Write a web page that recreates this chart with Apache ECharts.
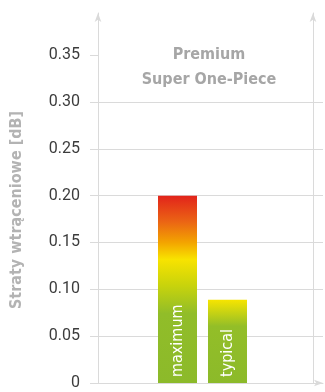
<!DOCTYPE html>
<html>
<head>
<meta charset="utf-8">
<script src="https://cdn.jsdelivr.net/npm/echarts@6/dist/echarts.min.js"></script>
<style>
  html, body { margin: 0; padding: 0; background: #ffffff; }
  #chart { width: 325px; height: 392px; }
</style>
</head>
<body>
<div id="chart"></div>
<script>
// Insertion loss of the Premium Super One-Piece connector
const productLines = ['Premium', 'Super One-Piece'];
const seriesNames = ['maximum', 'typical'];
const lossValues = [0.20, 0.089];
const yTicks = [0, 0.05, 0.10, 0.15, 0.20, 0.25, 0.30, 0.35];
const axisTitle = 'Straty wtrąceniowe [dB]';

const FONT = "'DejaVu Sans Condensed', 'Liberation Sans', sans-serif";
const TICK_FONT = "'Roboto', 'Liberation Sans', sans-serif";
const LINE = '#dadada';
const Y_MAX = 0.395;

// Gradient fills, top of bar first
const fills = [
  new echarts.graphic.LinearGradient(0, 0, 0, 1, [
    { offset: 0.00, color: '#e2231b' },
    { offset: 0.14, color: '#eb6514' },
    { offset: 0.25, color: '#f3a400' },
    { offset: 0.34, color: '#f8e300' },
    { offset: 0.48, color: '#c8d30c' },
    { offset: 0.63, color: '#91bd29' },
    { offset: 1.00, color: '#8cba2a' }
  ]),
  new echarts.graphic.LinearGradient(0, 0, 0, 1, [
    { offset: 0.00, color: '#f7e500' },
    { offset: 0.32, color: '#93be28' },
    { offset: 1.00, color: '#8cba2a' }
  ])
];

// grid lines for 0 .. 0.30, none above
const splitColors = yTicks.map(v => (v < 0.33 ? LINE : 'rgba(0,0,0,0)')).concat(['rgba(0,0,0,0)']);

const chart = echarts.init(document.getElementById('chart'), null, { renderer: 'canvas' });

chart.setOption({
  animation: false,
  backgroundColor: '#ffffff',
  title: {
    text: productLines.join('\n'),
    left: 204,
    top: 37,
    textAlign: 'center',
    textStyle: {
      fontFamily: FONT,
      fontSize: 16,
      fontWeight: 'bold',
      color: '#a6a6a6',
      lineHeight: 25
    }
  },
  grid: [
    { left: 98, right: 2, top: 13, bottom: 9 },
    { left: 98, right: 18, top: 13, bottom: 9 }
  ],
  xAxis: [
    {
      type: 'category',
      gridIndex: 0,
      data: [productLines.join(' ')],
      axisLine: { show: true, lineStyle: { color: LINE }, symbol: ['none', 'arrow'], symbolSize: [5, 9] },
      axisTick: { show: false },
      axisLabel: { show: false },
      splitLine: { show: false }
    },
    {
      type: 'category',
      gridIndex: 1,
      data: [productLines.join(' ')],
      show: false
    }
  ],
  yAxis: [
    {
      type: 'value',
      gridIndex: 0,
      min: 0,
      max: Y_MAX,
      interval: 0.05,
      name: axisTitle,
      nameLocation: 'middle',
      nameGap: 73,
      nameTextStyle: {
        fontFamily: FONT,
        fontSize: 16,
        fontWeight: 'bold',
        color: '#b3b3b3',
        padding: [0, 24, 0, 0]
      },
      axisLine: { show: true, lineStyle: { color: LINE }, symbol: ['none', 'arrow'], symbolSize: [5, 9] },
      axisTick: { show: true, length: 8, lineStyle: { color: LINE }, customValues: yTicks },
      axisLabel: {
        customValues: yTicks,
        margin: 18,
        fontFamily: TICK_FONT,
        fontWeight: 400,
        fontSize: 16,
        color: '#3c3c3c',
        formatter: v => (v === 0 ? '0' : v.toFixed(2))
      },
      splitLine: { show: true, lineStyle: { color: splitColors, width: 1 } }
    },
    {
      type: 'value',
      gridIndex: 0,
      position: 'right',
      offset: -10,
      min: 0,
      max: Y_MAX,
      axisLine: { show: true, lineStyle: { color: LINE }, symbol: ['none', 'arrow'], symbolSize: [5, 9] },
      axisTick: { show: false },
      axisLabel: { show: false },
      splitLine: { show: false }
    },
    {
      type: 'value',
      gridIndex: 1,
      min: 0,
      max: Y_MAX,
      show: false,
      splitLine: { show: false }
    }
  ],
  series: seriesNames.map((name, i) => ({
    name: name,
    type: 'bar',
    xAxisIndex: 1,
    yAxisIndex: 2,
    barWidth: 39,
    barGap: '28.2%',
    data: [lossValues[i]],
    itemStyle: { color: fills[i] },
    label: {
      show: true,
      position: 'insideBottom',
      rotate: 90,
      align: 'left',
      verticalAlign: 'middle',
      distance: 6,
      formatter: name,
      fontFamily: FONT,
      fontSize: 16,
      color: '#ffffff'
    }
  }))
});
</script>
</body>
</html>
